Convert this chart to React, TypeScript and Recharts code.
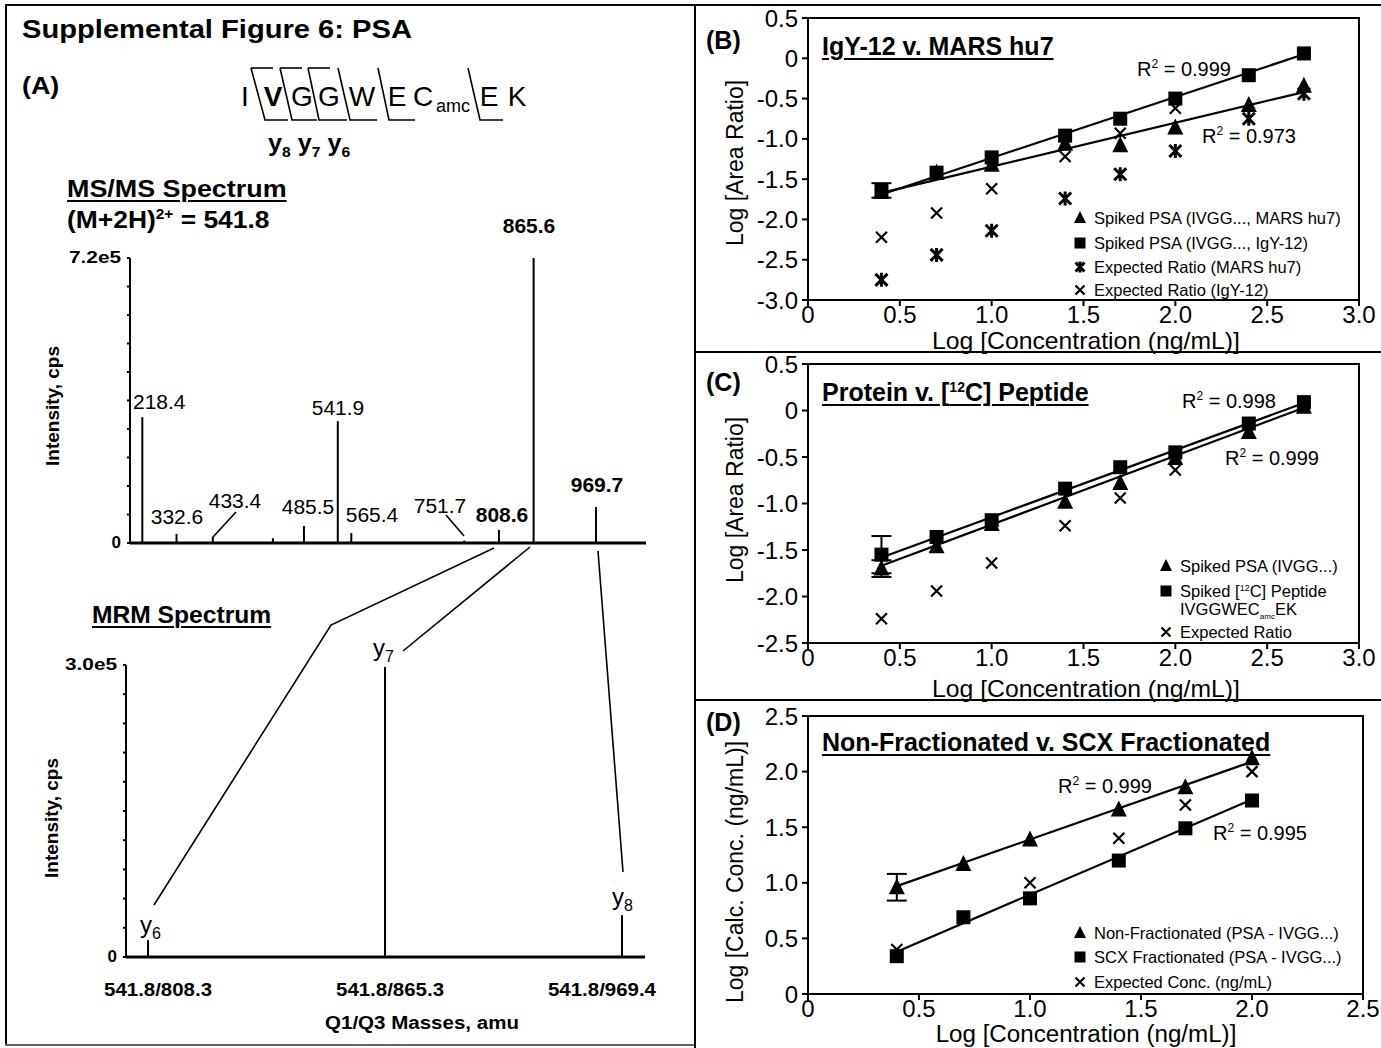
import React from "react";
import { ComposedChart, Scatter, XAxis, YAxis, ReferenceLine, ReferenceArea, ErrorBar } from "recharts";

const FONT = "'Liberation Sans', Arial, Helvetica, sans-serif";
const NARROW = "'Liberation Sans Narrow', 'Liberation Sans', Arial, sans-serif";

// ---- (A) MS/MS spectrum: m/z and intensity (cps)
const MSMS_MZ = [218.4, 275.0, 335.0, 434.5, 485.9, 541.9, 564.2, 751.0, 808.6, 866.0, 969.2];
const MSMS_INT = [318000, 23000, 16000, 12000, 43000, 308000, 25000, 6000, 33000, 720000, 91000];
const MSMS_XTICKS = [250, 300, 350, 400, 450, 500, 550, 600, 650, 700, 750, 800, 850, 900, 950, 1000, 1050];
const MSMS_YTICKS = [0, 72000, 144000, 216000, 288000, 360000, 432000, 504000, 576000, 648000, 720000];

// ---- (A) MRM spectrum
const MRM_LABELS = ["541.8/808.3", "541.8/865.3", "541.8/969.4"];
const MRM_INT = [17500, 298000, 43000];
const MRM_YTICKS = [0, 30000, 60000, 90000, 120000, 150000, 180000, 210000, 240000, 270000, 300000];

// peptide sequence letters
const PEP_LETTERS = ["I", "V", "G", "G", "W", "E", "C", "E", "K"];

// ---- (B) IgY-12 v. MARS hu7
const B_X = [0.4, 0.7, 1.0, 1.4, 1.7, 2.0, 2.4, 2.7];
const B_MARS = [-1.66, -1.42, -1.32, -1.06, -1.08, -0.86, -0.58, -0.34];
const B_IGY = [-1.64, -1.42, -1.23, -0.96, -0.75, -0.5, -0.21, 0.06];
const B_IGY_ERR = [0.09, 0, 0, 0, 0, 0, 0, 0];
const B_EXP_MARS = [-2.75, -2.44, -2.14, -1.74, -1.44, -1.15, -0.75, -0.44];
const B_EXP_IGY = [-2.22, -1.92, -1.62, -1.22, -0.93, -0.62, -0.22, 0.07];
const B_FIT_IGY = [[0.4, -1.69], [2.7, 0.05]];
const B_FIT_MARS = [[0.4, -1.67], [2.7, -0.42]];
const B_YTICKS = [-3, -2.5, -2, -1.5, -1, -0.5, 0, 0.5];
const BC_XTICKS = [0, 0.5, 1, 1.5, 2, 2.5, 3];

// ---- (C) Protein v. [12C] Peptide
const C_X = [0.4, 0.7, 1.0, 1.4, 1.7, 2.0, 2.4, 2.7];
const C_PSA = [-1.7, -1.46, -1.22, -0.98, -0.78, -0.51, -0.23, 0.04];
const C_PSA_ERR = [0.09, 0, 0, 0, 0, 0, 0, 0];
const C_PEP = [-1.55, -1.36, -1.18, -0.84, -0.61, -0.45, -0.14, 0.09];
const C_PEP_ERR = [0.2, 0, 0, 0, 0, 0, 0, 0];
const C_EXP = [-2.24, -1.94, -1.64, -1.24, -0.94, -0.64, -0.24, 0.06];
const C_FIT_PEP = [[0.4, -1.58], [2.7, 0.08]];
const C_FIT_PSA = [[0.4, -1.67], [2.7, 0.03]];
const C_YTICKS = [-2.5, -2, -1.5, -1, -0.5, 0, 0.5];

// ---- (D) Non-Fractionated v. SCX Fractionated
const D_X = [0.4, 0.7, 1.0, 1.4, 1.7, 2.0];
const D_NON = [0.96, 1.17, 1.39, 1.66, 1.86, 2.12];
const D_NON_ERR = [0.12, 0, 0, 0, 0, 0];
const D_SCX = [0.34, 0.69, 0.86, 1.2, 1.49, 1.74];
const D_EXP = [0.4, 0.7, 1.0, 1.4, 1.7, 2.0];
const D_FIT_NON = [[0.4, 0.97], [2.0, 2.09]];
const D_FIT_SCX = [[0.4, 0.38], [2.0, 1.75]];
const D_YTICKS = [0, 0.5, 1, 1.5, 2, 2.5];
const D_XTICKS = [0, 0.5, 1, 1.5, 2, 2.5];

const pts = (xs: number[], ys: number[], errs?: number[]) =>
  xs.map((x, i) => ({ x, y: ys[i], err: errs && errs[i] ? errs[i] : undefined }));

// marker glyphs
const tri = (cx: number, cy: number, s = 8) => (
  <polygon points={`${cx},${cy - s - 1} ${cx - s},${cy + s - 1} ${cx + s},${cy + s - 1}`} fill="#000" />
);
const sq = (cx: number, cy: number, s = 7) => (
  <rect x={cx - s} y={cy - s} width={2 * s} height={2 * s} fill="#000" />
);
const cross = (cx: number, cy: number, s = 5.5) => (
  <path d={`M${cx - s},${cy - s}L${cx + s},${cy + s}M${cx - s},${cy + s}L${cx + s},${cy - s}`} stroke="#000" strokeWidth={2.2} />
);
const star = (cx: number, cy: number, s = 6) => (
  <path
    d={`M${cx - s},${cy - s}L${cx + s},${cy + s}M${cx - s},${cy + s}L${cx + s},${cy - s}M${cx},${cy - s - 1}L${cx},${cy + s + 1}`}
    stroke="#000"
    strokeWidth={3}
  />
);

const fmt = (v: number) => (v === 0 ? "0" : v.toFixed(1));

function T({ x, y, size = 18, bold = false, anchor = "start", family = FONT, under = false, sx = 1, children }: any) {
  const tx = anchor === "middle" ? "translateX(-50%)" : anchor === "end" ? "translateX(-100%)" : "";
  const origin = anchor === "middle" ? "center" : anchor === "end" ? "right" : "left";
  return (
    <div
      style={{
        position: "absolute", left: x, top: y - size / 2, fontSize: size, lineHeight: 1, fontFamily: family,
        fontWeight: bold ? 700 : 400, whiteSpace: "nowrap", transform: `${tx} scaleX(${sx})`, transformOrigin: origin,
        color: "#000", textDecoration: under ? "underline" : "none", textDecorationThickness: 2, textUnderlineOffset: 3,
      }}
    >
      {children}
    </div>
  );
}

function VT({ x, y, size = 18, bold = false, family = FONT, children }: any) {
  return (
    <div
      style={{
        position: "absolute", left: x, top: y, fontSize: size, lineHeight: 1, fontFamily: family,
        fontWeight: bold ? 700 : 400, whiteSpace: "nowrap", color: "#000",
        transform: "translate(-50%, -50%) rotate(-90deg)",
      }}
    >
      {children}
    </div>
  );
}

function Legend({ x, rows }: any) {
  return (
    <>
      {rows.map((r: any, i: number) => (
        <div key={i} style={{ position: "absolute", left: x, top: r.y - 9, height: 18, display: "flex", alignItems: "center", fontFamily: NARROW, fontSize: 16.5, whiteSpace: "nowrap" }}>
          <svg width={16} height={16} style={{ marginRight: 6, visibility: r.m ? "visible" : "hidden" }}>
            {r.m ? r.m(8, 8, r.s) : null}
          </svg>
          <span>{r.t}</span>
        </div>
      ))}
    </>
  );
}

// calibration panel chart
function Cal({ box, plot, xMax, xTicks, yMin, yMax, yTicks, series, fits }: any) {
  const YW = 60, XH = 40;
  const margin = {
    left: plot.l - box.l - YW,
    right: box.l + box.w - plot.r,
    top: plot.t - box.t,
    bottom: box.t + box.h - plot.b - XH,
  };
  const tickStyle = { fontSize: 24, fill: "#000", fontFamily: NARROW };
  return (
    <div style={{ position: "absolute", left: box.l, top: box.t }}>
      <ComposedChart width={box.w} height={box.h} margin={margin}>
        <XAxis type="number" dataKey="x" domain={[0, xMax]} ticks={xTicks} tickFormatter={fmt} allowDataOverflow
          height={XH} stroke="#000" strokeWidth={2} tickSize={6} tickMargin={0} tick={tickStyle} interval={0} />
        <YAxis type="number" dataKey="y" domain={[yMin, yMax]} ticks={yTicks} tickFormatter={fmt} allowDataOverflow
          width={YW} stroke="#000" strokeWidth={2} tickSize={6} tickMargin={4} tick={tickStyle} interval={0} />
        <ReferenceArea x1={0} x2={xMax} y1={yMin} y2={yMax} fill="none" stroke="#000" strokeWidth={2} ifOverflow="visible" />
        {fits.map((f: number[][], i: number) => (
          <ReferenceLine key={"f" + i} segment={[{ x: f[0][0], y: f[0][1] }, { x: f[1][0], y: f[1][1] }]} stroke="#000" strokeWidth={2.2} ifOverflow="visible" />
        ))}
        {series.map((s: any, i: number) => (
          <Scatter key={"s" + i} data={s.data} dataKey="y" isAnimationActive={false} shape={(p: any) => s.m(p.cx, p.cy)}>
            {s.err ? <ErrorBar dataKey="err" direction="y" width={10} stroke="#000" strokeWidth={2} /> : null}
          </Scatter>
        ))}
      </ComposedChart>
    </div>
  );
}

function Spectrum({ box, plot, xDomain, xTicks, yMax, yTicks, peaks, yLabels, xTick, xAxisH, axisW }: any) {
  const YW = 70;
  const margin = {
    left: plot.l - box.l - YW,
    right: box.l + box.w - plot.r,
    top: plot.t - box.t,
    bottom: box.t + box.h - plot.b - xAxisH,
  };
  return (
    <div style={{ position: "absolute", left: box.l, top: box.t }}>
      <ComposedChart width={box.w} height={box.h} margin={margin} data={peaks}>
        <XAxis type="number" dataKey="x" domain={xDomain} ticks={xTicks} allowDataOverflow height={xAxisH}
          stroke="#000" strokeWidth={axisW} tickSize={xTick ? 0 : 5} tickLine={!xTick} interval={0}
          tick={xTick || false} />
        <YAxis type="number" dataKey="y" domain={[0, yMax]} ticks={yTicks} allowDataOverflow width={YW}
          stroke="#000" strokeWidth={2} tickSize={3} interval={0}
          tick={(p: any) => {
            const lab = yLabels[p.payload.value];
            return lab ? (
              <text x={p.x - 4} y={p.y} dy={5} textAnchor="end" fontSize={17} fontWeight={700} fontFamily={FONT} fill="#000"
                textLength={lab.length > 1 ? 52 : undefined} lengthAdjust="spacingAndGlyphs">{lab}</text>
            ) : <g />;
          }} />
        <Scatter dataKey="y" isAnimationActive={false} shape={() => <g />} />
        {peaks.map((p: any, i: number) => (
          <ReferenceLine key={i} segment={[{ x: p.x, y: 0 }, { x: p.x, y: p.y }]} stroke="#000" strokeWidth={2} ifOverflow="visible" />
        ))}
      </ComposedChart>
    </div>
  );
}

export default function App() {
  const msmsPeaks = MSMS_MZ.map((x, i) => ({ x, y: MSMS_INT[i] }));
  const mrmPeaks = MRM_INT.map((y, i) => ({ x: i, y }));
  const mrmShift = [10, 5, -20];

  const mrmTick = (p: any) => (
    <text x={p.x + mrmShift[p.index]} y={p.y} dy={37} textAnchor="middle" fontSize={18} fontWeight={700} fontFamily={FONT} fill="#000"
      textLength={108} lengthAdjust="spacingAndGlyphs">
      {MRM_LABELS[p.payload.value]}
    </text>
  );

  const lineS = { stroke: "#000", strokeWidth: 1.6, fill: "none" };
  const slashTop = [251, 280, 308, 338, 378, 468];
  const slashBot = [265, 292, 319, 350, 389, 480];
  const barEnd = [288, 317, 347, 377, 415, 503];
  const letterX = [245, 273, 302, 329, 362, 397, 423, 489, 517];

  return (
    <div style={{ position: "absolute", left: 0, top: 0, width: 1381, height: 1048, background: "#fff", overflow: "hidden", fontFamily: FONT }}>
      {/* frames */}
      <div style={{ position: "absolute", left: 5, top: 4, width: 1376, height: 2, background: "#000" }} />
      <div style={{ position: "absolute", left: 5, top: 4, width: 2, height: 1042, background: "#000" }} />
      <div style={{ position: "absolute", left: 5, top: 1044, width: 690, height: 2, background: "#666" }} />
      <div style={{ position: "absolute", left: 694, top: 4, width: 2, height: 1044, background: "#000" }} />
      <div style={{ position: "absolute", left: 694, top: 351, width: 687, height: 2, background: "#000" }} />
      <div style={{ position: "absolute", left: 694, top: 699, width: 687, height: 2, background: "#000" }} />

      {/* ---------- panel A ---------- */}
      <T x={22} y={29} size={26} bold sx={1.12}>Supplemental Figure 6: PSA</T>
      <T x={22} y={86} size={24} bold sx={1.12}>(A)</T>
      {PEP_LETTERS.map((c, i) => (
        <T key={i} x={letterX[i]} y={97} size={28} bold={i === 1} anchor="middle">{c}</T>
      ))}
      <T x={436} y={106} size={18}>amc</T>
      <T x={268} y={143} size={24} bold sx={1.05}>
        y<sub style={{ fontSize: 15 }}>8</sub> y<sub style={{ fontSize: 15 }}>7</sub> y<sub style={{ fontSize: 15 }}>6</sub>
      </T>
      <T x={67} y={189} size={24} bold under sx={1.12}>MS/MS Spectrum</T>
      <T x={67} y={219} size={24} bold sx={1.1}>
        (M+2H)<sup style={{ fontSize: 14 }}>2+</sup> = 541.8
      </T>

      <Spectrum
        box={{ l: 0, t: 240, w: 690, h: 320 }}
        plot={{ l: 130, r: 646, t: 258, b: 543 }}
        xDomain={[198, 1052]}
        xTicks={MSMS_XTICKS}
        yMax={720000}
        yTicks={MSMS_YTICKS}
        peaks={msmsPeaks}
        yLabels={{ 0: "0", 720000: "7.2e5" }}
        xAxisH={10}
        axisW={3}
      />
      <VT x={52} y={406} size={19} bold>Intensity, cps</VT>
      <T x={133} y={402} size={20} sx={1.05}>218.4</T>
      <T x={177} y={517} size={20} sx={1.05} anchor="middle">332.6</T>
      <T x={235} y={501} size={20} sx={1.05} anchor="middle">433.4</T>
      <T x={308} y={507} size={20} sx={1.05} anchor="middle">485.5</T>
      <T x={338} y={408} size={20} sx={1.05} anchor="middle">541.9</T>
      <T x={372} y={515} size={20} sx={1.05} anchor="middle">565.4</T>
      <T x={440} y={506} size={20} sx={1.05} anchor="middle">751.7</T>
      <T x={502} y={515} size={20} sx={1.05} bold anchor="middle">808.6</T>
      <T x={529} y={226} size={20} sx={1.05} bold anchor="middle">865.6</T>
      <T x={597} y={485} size={20} sx={1.05} bold anchor="middle">969.7</T>

      <T x={92} y={615} size={23} bold under sx={1.07}>MRM Spectrum</T>
      <Spectrum
        box={{ l: 0, t: 640, w: 690, h: 400 }}
        plot={{ l: 126, r: 645, t: 665, b: 957 }}
        xDomain={[-0.093, 2.097]}
        xTicks={[0, 1, 2]}
        yMax={300000}
        yTicks={MRM_YTICKS}
        peaks={mrmPeaks}
        yLabels={{ 0: "0", 300000: "3.0e5" }}
        xTick={mrmTick}
        xAxisH={50}
        axisW={3}
      />
      <VT x={51} y={818} size={19} bold>Intensity, cps</VT>
      <T x={422} y={1023} size={18} bold sx={1.14} anchor="middle">Q1/Q3 Masses, amu</T>
      <T x={373} y={648} size={24}>y<sub style={{ fontSize: 16 }}>7</sub></T>
      <T x={140} y={925} size={24}>y<sub style={{ fontSize: 16 }}>6</sub></T>
      <T x={612} y={897} size={24}>y<sub style={{ fontSize: 16 }}>8</sub></T>

      {/* annotation lines */}
      <svg width={1381} height={1048} style={{ position: "absolute", left: 0, top: 0, pointerEvents: "none" }}>
        {slashTop.map((x, i) => (
          <path key={i} d={`M${x},${68}L${slashBot[i]},${120}L${barEnd[i]},${120}`} {...lineS} />
        ))}
        {slashTop.slice(0, 3).map((x, i) => (
          <path key={"t" + i} d={`M${x},${68}L${x + 22},${68}`} {...lineS} />
        ))}
        <path d="M236,512L213,537" {...lineS} />
        <path d="M446,515L464,536" {...lineS} />
        <path d="M494,548L331,625L154,905" {...lineS} />
        <path d="M530,547L403,651" {...lineS} />
        <path d="M598,551L623,872" {...lineS} />
      </svg>

      {/* ---------- panel B ---------- */}
      <Cal
        box={{ l: 700, t: 0, w: 681, h: 352 }}
        plot={{ l: 808, r: 1359, t: 18, b: 300 }}
        xMax={3} xTicks={BC_XTICKS} yMin={-3} yMax={0.5} yTicks={B_YTICKS}
        fits={[B_FIT_IGY, B_FIT_MARS]}
        series={[
          { data: pts(B_X, B_EXP_MARS), m: star },
          { data: pts(B_X, B_EXP_IGY), m: cross },
          { data: pts(B_X, B_MARS), m: tri },
          { data: pts(B_X, B_IGY, B_IGY_ERR), m: sq, err: true },
        ]}
      />
      <T x={706} y={40} size={25} bold>(B)</T>
      <T x={822} y={46} size={25} bold under family={NARROW}>IgY-12 v. MARS hu7</T>
      <T x={1137} y={68} size={20} family={NARROW}>R<sup style={{ fontSize: 12 }}>2</sup> = 0.999</T>
      <T x={1202} y={135} size={20} family={NARROW}>R<sup style={{ fontSize: 12 }}>2</sup> = 0.973</T>
      <VT x={735} y={163} size={23} family={NARROW}>Log [Area Ratio]</VT>
      <T x={1086} y={341} size={24} sx={1.03} anchor="middle" family={NARROW}>Log [Concentration (ng/mL)]</T>
      <Legend x={1072} rows={[
        { y: 218, m: tri, s: 6, t: "Spiked PSA (IVGG..., MARS hu7)" },
        { y: 243, m: sq, s: 5.5, t: "Spiked PSA (IVGG..., IgY-12)" },
        { y: 267, m: star, s: 4.5, t: "Expected Ratio (MARS hu7)" },
        { y: 290, m: cross, s: 4.5, t: "Expected Ratio (IgY-12)" },
      ]} />

      {/* ---------- panel C ---------- */}
      <Cal
        box={{ l: 700, t: 340, w: 681, h: 360 }}
        plot={{ l: 808, r: 1359, t: 364, b: 643 }}
        xMax={3} xTicks={BC_XTICKS} yMin={-2.5} yMax={0.5} yTicks={C_YTICKS}
        fits={[C_FIT_PEP, C_FIT_PSA]}
        series={[
          { data: pts(C_X, C_EXP), m: cross },
          { data: pts(C_X, C_PEP, C_PEP_ERR), m: sq, err: true },
          { data: pts(C_X, C_PSA, C_PSA_ERR), m: tri, err: true },
        ]}
      />
      <T x={706} y={382} size={25} bold>(C)</T>
      <T x={822} y={392} size={25} bold under family={NARROW}>
        Protein v. [<sup style={{ fontSize: 14 }}>12</sup>C] Peptide
      </T>
      <T x={1182} y={400} size={20} family={NARROW}>R<sup style={{ fontSize: 12 }}>2</sup> = 0.998</T>
      <T x={1225} y={457} size={20} family={NARROW}>R<sup style={{ fontSize: 12 }}>2</sup> = 0.999</T>
      <VT x={735} y={500} size={23} family={NARROW}>Log [Area Ratio]</VT>
      <T x={1086} y={689} size={24} sx={1.03} anchor="middle" family={NARROW}>Log [Concentration (ng/mL)]</T>
      <Legend x={1158} rows={[
        { y: 566, m: tri, s: 6, t: "Spiked PSA (IVGG...)" },
        { y: 591, m: sq, s: 5.5, t: <span>Spiked [<sup style={{ fontSize: 9 }}>12</sup>C] Peptide</span> },
        { y: 611, m: null, t: <span>IVGGWEC<sub style={{ fontSize: 8 }}>amc</sub>EK</span> },
        { y: 632, m: cross, s: 4.5, t: "Expected Ratio" },
      ]} />

      {/* ---------- panel D ---------- */}
      <Cal
        box={{ l: 700, t: 692, w: 681, h: 356 }}
        plot={{ l: 808, r: 1363, t: 716, b: 994 }}
        xMax={2.5} xTicks={D_XTICKS} yMin={0} yMax={2.5} yTicks={D_YTICKS}
        fits={[D_FIT_NON, D_FIT_SCX]}
        series={[
          { data: pts(D_X, D_EXP), m: cross },
          { data: pts(D_X, D_SCX), m: sq },
          { data: pts(D_X, D_NON, D_NON_ERR), m: tri, err: true },
        ]}
      />
      <T x={706} y={722} size={25} bold>(D)</T>
      <T x={822} y={742} size={25} bold under family={NARROW}>Non-Fractionated v. SCX Fractionated</T>
      <T x={1058} y={785} size={20} family={NARROW}>R<sup style={{ fontSize: 12 }}>2</sup> = 0.999</T>
      <T x={1213} y={832} size={20} family={NARROW}>R<sup style={{ fontSize: 12 }}>2</sup> = 0.995</T>
      <VT x={735} y={872} size={23} family={NARROW}>Log [Calc. Conc. (ng/mL)]</VT>
      <T x={1086} y={1034} size={23} sx={1.05} anchor="middle" family={NARROW}>Log [Concentration (ng/mL)]</T>
      <Legend x={1072} rows={[
        { y: 933, m: tri, s: 6, t: "Non-Fractionated (PSA - IVGG...)" },
        { y: 957, m: sq, s: 5.5, t: "SCX Fractionated (PSA - IVGG...)" },
        { y: 982, m: cross, s: 4.5, t: "Expected Conc. (ng/mL)" },
      ]} />
    </div>
  );
}
